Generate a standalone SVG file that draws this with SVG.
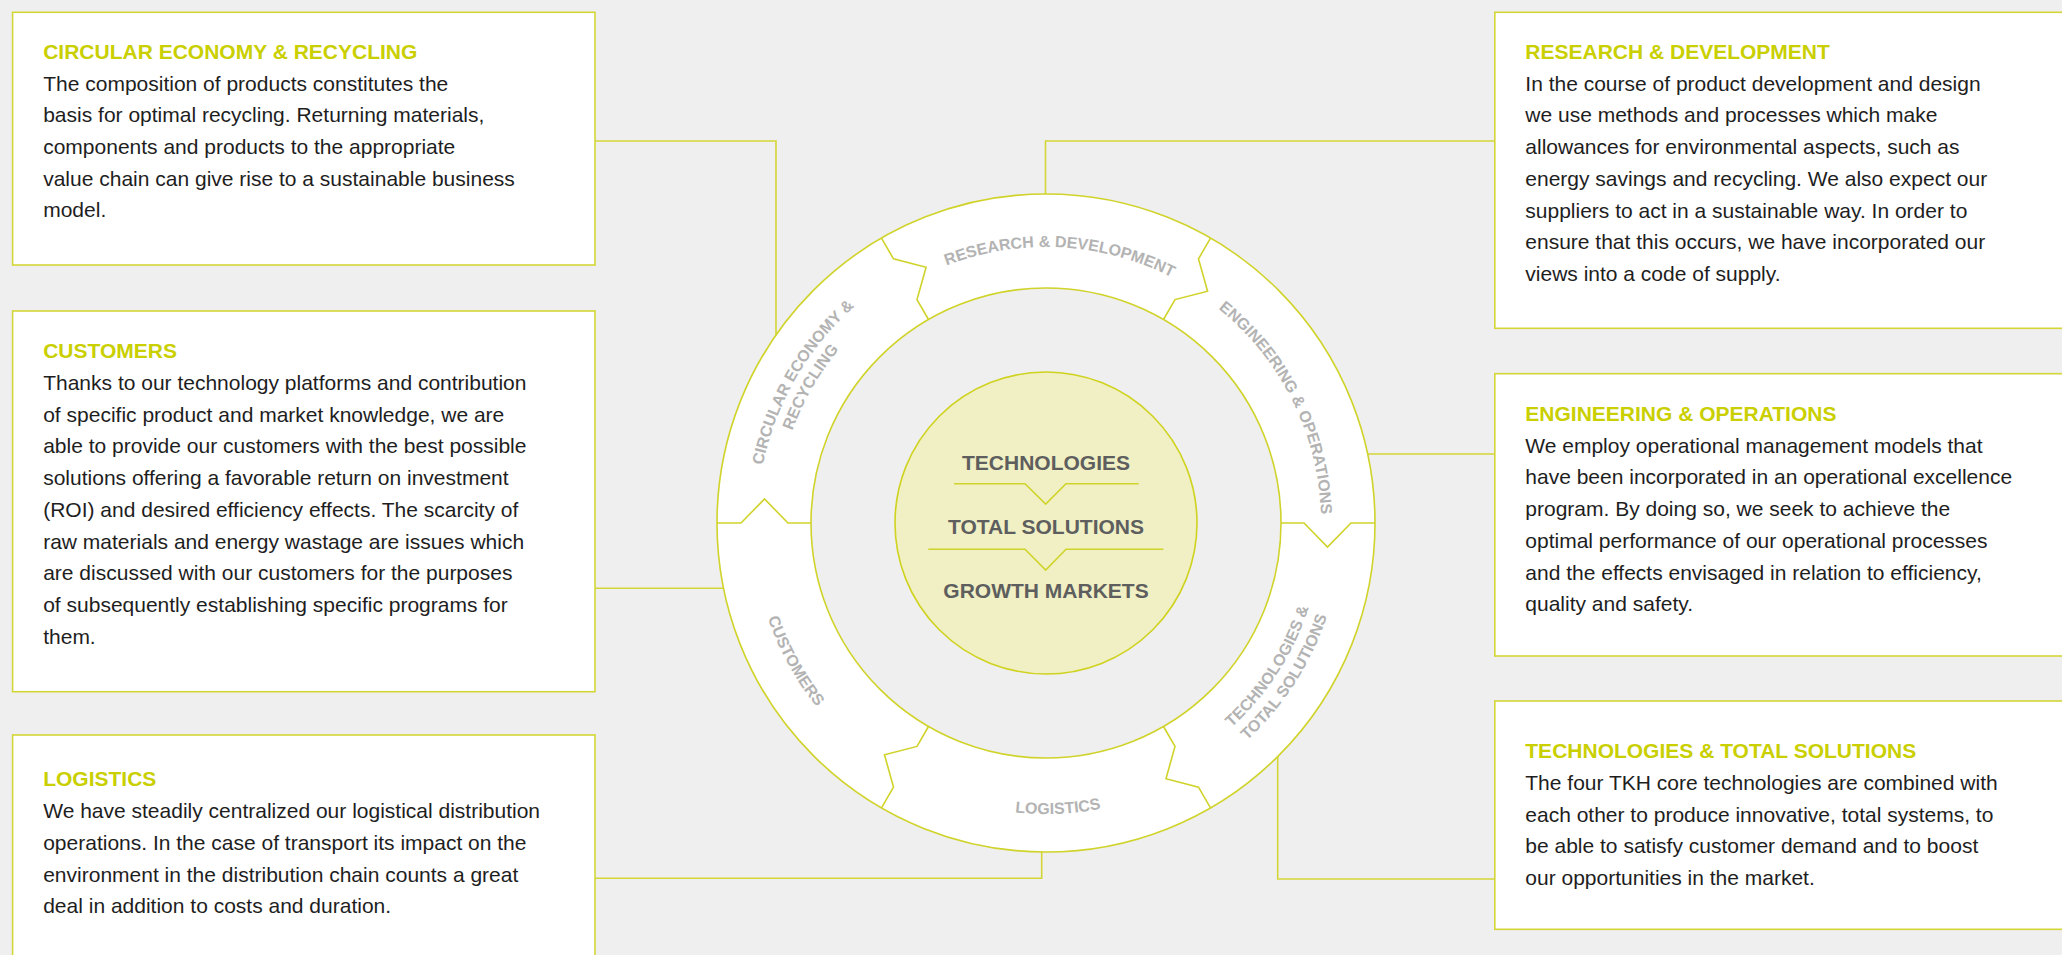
<svg xmlns="http://www.w3.org/2000/svg" width="2062" height="955" viewBox="0 0 2062 955">
<defs>
<style>
.box{fill:#ffffff;stroke:#d3d636;stroke-width:1.6}
.ttl{font-family:"Liberation Sans",Arial,sans-serif;font-weight:bold;font-size:21px;fill:#c9cf00}
.body{font-family:"Liberation Sans",Arial,sans-serif;font-size:21px;fill:#1e1e1e}
.con{fill:none;stroke:#d3d636;stroke-width:1.6}
.ring{stroke:#d0d32a;stroke-width:1.6}
.div{fill:none;stroke:#d0d32a;stroke-width:1.6;stroke-linejoin:miter}
.seg{font-family:"Liberation Sans",Arial,sans-serif;font-weight:bold;font-size:16px;fill:#b3b3b3}
.ctr{font-family:"Liberation Sans",Arial,sans-serif;font-weight:bold;font-size:21px;fill:#5e5e5e;text-anchor:middle}
</style>
<path id="pRD" d="M879.9,302.6 A276,276 0 0 1 1234.2,321.1"/>
<path id="pCE1" d="M761.4,573.2 A289,289 0 0 1 947.2,251.4"/>
<path id="pCE2" d="M780.1,569.9 A270,270 0 0 1 953.7,269.3"/>
<path id="pEO" d="M1155.6,270.8 A275,275 0 0 1 1313.4,587.2"/>
<path id="pLO" d="M868.5,753.6 A291,291 0 0 0 1242.2,737.9"/>
<path id="pCU" d="M757.6,465.9 A294,294 0 0 0 939.7,797.1"/>
<path id="pTT1" d="M1127.6,786.7 A276,276 0 0 0 1319.8,488.4"/>
<path id="pTT2" d="M1133.5,805.8 A296,296 0 0 0 1339.7,485.9"/>
</defs>
<rect x="0" y="0" width="2062" height="955" fill="#efefef"/>

<g id="connectors">
<polyline class="con" points="595,141 776,141 776,335"/>
<polyline class="con" points="595,588.3 723.5,588.3"/>
<polyline class="con" points="595,878.3 1041.7,878.3 1041.7,852"/>
<polyline class="con" points="1494.8,141 1045.5,141 1045.5,194"/>
<polyline class="con" points="1368,454 1494.8,454"/>
<polyline class="con" points="1277.7,756.6 1277.7,879 1494.8,879"/>
</g>

<g id="box-circular">
<rect class="box" x="12.6" y="12.3" width="582.4" height="252.7"/>
<text class="ttl" x="43.2" y="59.3">CIRCULAR ECONOMY &amp; RECYCLING</text>
<text class="body" x="43.2" y="90.7">The composition of products constitutes the</text>
<text class="body" x="43.2" y="122.4">basis for optimal recycling. Returning materials,</text>
<text class="body" x="43.2" y="154">components and products to the appropriate</text>
<text class="body" x="43.2" y="185.6">value chain can give rise to a sustainable business</text>
<text class="body" x="43.2" y="217.2">model.</text>
</g>

<g id="box-customers">
<rect class="box" x="12.6" y="311" width="582.4" height="380.7"/>
<text class="ttl" x="43.2" y="358.3">CUSTOMERS</text>
<text class="body" x="43.2" y="390">Thanks to our technology platforms and contribution</text>
<text class="body" x="43.2" y="421.7">of specific product and market knowledge, we are</text>
<text class="body" x="43.2" y="453.4">able to provide our customers with the best possible</text>
<text class="body" x="43.2" y="485.1">solutions offering a favorable return on investment</text>
<text class="body" x="43.2" y="516.8">(ROI) and desired efficiency effects. The scarcity of</text>
<text class="body" x="43.2" y="548.5">raw materials and energy wastage are issues which</text>
<text class="body" x="43.2" y="580.2">are discussed with our customers for the purposes</text>
<text class="body" x="43.2" y="611.9">of subsequently establishing specific programs for</text>
<text class="body" x="43.2" y="643.6">them.</text>
</g>

<g id="box-logistics">
<rect class="box" x="12.6" y="735" width="582.4" height="240"/>
<text class="ttl" x="43.2" y="785.7">LOGISTICS</text>
<text class="body" x="43.2" y="818.3">We have steadily centralized our logistical distribution</text>
<text class="body" x="43.2" y="850">operations. In the case of transport its impact on the</text>
<text class="body" x="43.2" y="881.7">environment in the distribution chain counts a great</text>
<text class="body" x="43.2" y="913.4">deal in addition to costs and duration.</text>
</g>

<g id="box-research">
<rect class="box" x="1494.8" y="12.3" width="600" height="316"/>
<text class="ttl" x="1525.3" y="59.3">RESEARCH &amp; DEVELOPMENT</text>
<text class="body" x="1525.3" y="90.7">In the course of product development and design</text>
<text class="body" x="1525.3" y="122.4">we use methods and processes which make</text>
<text class="body" x="1525.3" y="154.1">allowances for environmental aspects, such as</text>
<text class="body" x="1525.3" y="185.8">energy savings and recycling. We also expect our</text>
<text class="body" x="1525.3" y="217.5">suppliers to act in a sustainable way. In order to</text>
<text class="body" x="1525.3" y="249.2">ensure that this occurs, we have incorporated our</text>
<text class="body" x="1525.3" y="280.9">views into a code of supply.</text>
</g>

<g id="box-engineering">
<rect class="box" x="1494.8" y="373.7" width="600" height="282.3"/>
<text class="ttl" x="1525.3" y="421">ENGINEERING &amp; OPERATIONS</text>
<text class="body" x="1525.3" y="452.7">We employ operational management models that</text>
<text class="body" x="1525.3" y="484.4">have been incorporated in an operational excellence</text>
<text class="body" x="1525.3" y="516.1">program. By doing so, we seek to achieve the</text>
<text class="body" x="1525.3" y="547.8">optimal performance of our operational processes</text>
<text class="body" x="1525.3" y="579.5">and the effects envisaged in relation to efficiency,</text>
<text class="body" x="1525.3" y="611.2">quality and safety.</text>
</g>

<g id="box-technologies">
<rect class="box" x="1494.8" y="701" width="600" height="228.3"/>
<text class="ttl" x="1525.3" y="757.7">TECHNOLOGIES &amp; TOTAL SOLUTIONS</text>
<text class="body" x="1525.3" y="790">The four TKH core technologies are combined with</text>
<text class="body" x="1525.3" y="821.7">each other to produce innovative, total systems, to</text>
<text class="body" x="1525.3" y="853.4">be able to satisfy customer demand and to boost</text>
<text class="body" x="1525.3" y="885.1">our opportunities in the market.</text>
</g>

<g id="ring">
<circle class="ring" cx="1046" cy="523" r="329" fill="#ffffff"/>
<circle class="ring" cx="1046" cy="523" r="235" fill="#efefef"/>
<polyline class="div" points="1281,523 1304,523 1327.5,547 1351,523 1375,523"/>
<polyline class="div" points="1163.5,726.5 1175,746.4 1166,778.8 1198.5,787.1 1210.5,807.9"/>
<polyline class="div" points="928.5,726.5 917,746.4 884.5,754.8 893.5,787.1 881.5,807.9"/>
<polyline class="div" points="811,523 788,523 764.5,499 741,523 717,523"/>
<polyline class="div" points="928.5,319.5 917,299.6 926.1,267.2 893.5,258.9 881.5,238.1"/>
<polyline class="div" points="1163.5,319.5 1175,299.6 1207.6,291.2 1198.5,258.9 1210.5,238.1"/>
</g>

<g id="seg-research">
<text class="seg" text-anchor="middle"><textPath href="#pRD" startOffset="50%">RESEARCH &amp; DEVELOPMENT</textPath></text>
</g>
<g id="seg-engineering">
<text class="seg" text-anchor="middle"><textPath href="#pEO" startOffset="50%">ENGINEERING &amp; OPERATIONS</textPath></text>
</g>
<g id="seg-technologies">
<text class="seg" text-anchor="middle"><textPath href="#pTT1" startOffset="50%">TECHNOLOGIES &amp;</textPath></text>
<text class="seg" text-anchor="middle"><textPath href="#pTT2" startOffset="50%">TOTAL SOLUTIONS</textPath></text>
</g>
<g id="seg-logistics">
<text class="seg" text-anchor="middle"><textPath href="#pLO" startOffset="50%">LOGISTICS</textPath></text>
</g>
<g id="seg-customers">
<text class="seg" text-anchor="middle"><textPath href="#pCU" startOffset="50%">CUSTOMERS</textPath></text>
</g>
<g id="seg-circular">
<text class="seg" text-anchor="middle"><textPath href="#pCE1" startOffset="50%">CIRCULAR ECONOMY &amp;</textPath></text>
<text class="seg" text-anchor="middle"><textPath href="#pCE2" startOffset="50%">RECYCLING</textPath></text>
</g>

<g id="center">
<circle cx="1046" cy="523" r="151" fill="#f0f0c4" stroke="#cfd21e" stroke-width="1.6"/>
<text class="ctr" x="1046" y="470">TECHNOLOGIES</text>
<polyline class="div" points="954,483.7 1025,483.7 1045.7,504 1066,483.7 1138.7,483.7"/>
<text class="ctr" x="1046" y="534">TOTAL SOLUTIONS</text>
<polyline class="div" points="928.3,549.3 1025,549.3 1045.7,570 1066,549.3 1163.3,549.3"/>
<text class="ctr" x="1046" y="597.7">GROWTH MARKETS</text>
</g>
</svg>
